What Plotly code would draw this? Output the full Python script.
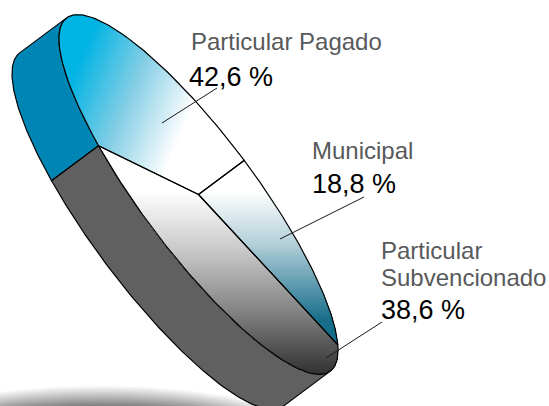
import numpy as np
import plotly.graph_objects as go

categories = ['Particular Pagado', 'Particular Subvencionado', 'Municipal']
shares = [42.6, 38.6, 18.8]
share_labels = ['42,6 %', '38,6 %', '18,8 %']

# tilted disc, in picture pixels
CX, CY = 198.5, 194.5
A, B = 220.5, 57.0
U = np.array([0.598, 0.801])
V = np.array([0.801, -0.598])
DEPTH = np.array([-47.0, 35.0])
START = 90.0


def rim(t0, t1, n=120):
    t = np.radians(np.linspace(t0, t1, n))
    return np.array([CX, CY]) + np.outer(A * np.cos(t), U) + np.outer(B * np.sin(t), V)


def hex_rgb(c):
    return np.array([int(c[i:i + 2], 16) for i in (1, 3, 5)], dtype=float)


def clip(poly, n, s):
    # keep the part of the polygon on the far side of a line
    out = []
    for p, q in zip(poly, np.roll(poly, -1, axis=0)):
        dp, dq = p @ n - s, q @ n - s
        if dp >= 0:
            out.append(p)
        if dp * dq < 0:
            out.append(p + (q - p) * dp / (dp - dq))
    return np.array(out)


def add_poly(fig, poly, color, line=None):
    fig.add_trace(go.Scatter(
        x=list(poly[:, 0]) + [poly[0, 0]], y=list(poly[:, 1]) + [poly[0, 1]],
        mode='lines', fill='toself', fillcolor=color,
        line=dict(color=line or color, width=1.2 if line else 0),
        hoverinfo='skip', showlegend=False))


def add_gradient(fig, poly, direction, s0, s1, stops, bands=60):
    n = np.array(direction, dtype=float)
    n /= np.linalg.norm(n)
    pos = [p for p, _ in stops]
    rgb = np.array([hex_rgb(c) for _, c in stops])
    for i in range(bands):
        f = i / (bands - 1)
        col = [np.interp(f, pos, rgb[:, k]) for k in range(3)]
        color = 'rgb(%d,%d,%d)' % tuple(col)
        part = poly if i == 0 else clip(poly, n, s0 + (s1 - s0) * f)
        if len(part) > 2:
            add_poly(fig, part, color)


fig = go.Figure()

# soft shadow under the disc
for i in range(40):
    f = i / 39
    a, b = 225 - 70 * f, 58 - 30 * f
    t = np.radians(np.linspace(0, 360, 90))
    g = int(255 - 185 * f)
    add_poly(fig, np.column_stack([100 + a * np.cos(t), 443 + b * np.sin(t)]),
             'rgb(%d,%d,%d)' % (g, g, g))

# slice angles come from the shares
angles = np.cumsum([0] + [s * 3.6 for s in shares]) + START
centre = np.array([CX, CY])

# side walls
for t0, t1, col in [(180, angles[1], '#0086b4'), (angles[1], 360, '#5f605f')]:
    top = rim(t0, t1)
    add_poly(fig, np.vstack([top, top[::-1] + DEPTH]), col, 'black')

# top face
styles = [
    ((0.92, 0.39), 95, 218, [(0, '#00b4e4'), (0.5, '#86cfe6'), (1, '#ffffff')]),
    ((0, 1), 190, 372, [(0, '#ffffff'), (0.35, '#c4c4c4'), (0.65, '#858585'), (1, '#333333')]),
    ((0, 1), 190, 320, [(0, '#ffffff'), (0.4, '#b4d0da'), (1, '#166d8a')]),
]
for i, (d, s0, s1, stops) in enumerate(styles):
    poly = np.vstack([centre, rim(angles[i], angles[i + 1])])
    add_gradient(fig, poly, d, s0, s1, stops)
for i in range(len(shares)):
    poly = np.vstack([centre, rim(angles[i], angles[i + 1])])
    fig.add_trace(go.Scatter(x=list(poly[:, 0]) + [CX], y=list(poly[:, 1]) + [CY], mode='lines',
                             line=dict(color='black', width=1.2), hoverinfo='skip', showlegend=False))

# leader lines
for x0, y0, x1, y1 in [(162, 123, 217, 88), (280, 239, 364, 197), (326, 358, 382, 322)]:
    fig.add_shape(type='line', x0=x0, y0=y0, x1=x1, y1=y1, line=dict(color='#1a1a1a', width=1))


def label(x, y, text, size, color):
    fig.add_annotation(x=x, y=y, text=text, showarrow=False, xanchor='left', yanchor='middle',
                       font=dict(family='Liberation Sans', size=size, color=color))


GREY = '#58595b'
label(189, 41, categories[0], 24, GREY)
label(187, 77, share_labels[0], 27, 'black')
label(310, 150, categories[2], 24, GREY)
label(310, 184, share_labels[2], 27, 'black')
label(379, 250, 'Particular', 24, GREY)
label(379, 277, 'Subvencionado', 24, GREY)
label(379, 310, share_labels[1], 27, 'black')

fig.update_layout(
    width=549, height=406, margin=dict(l=0, r=0, t=0, b=0),
    paper_bgcolor='white', plot_bgcolor='white', showlegend=False,
    xaxis=dict(range=[0, 549], visible=False, fixedrange=True),
    yaxis=dict(range=[406, 0], visible=False, fixedrange=True),
)
fig.write_html("out.html", config=dict(displayModeBar=False, responsive=False),
               post_script="document.body.style.margin='0';")
